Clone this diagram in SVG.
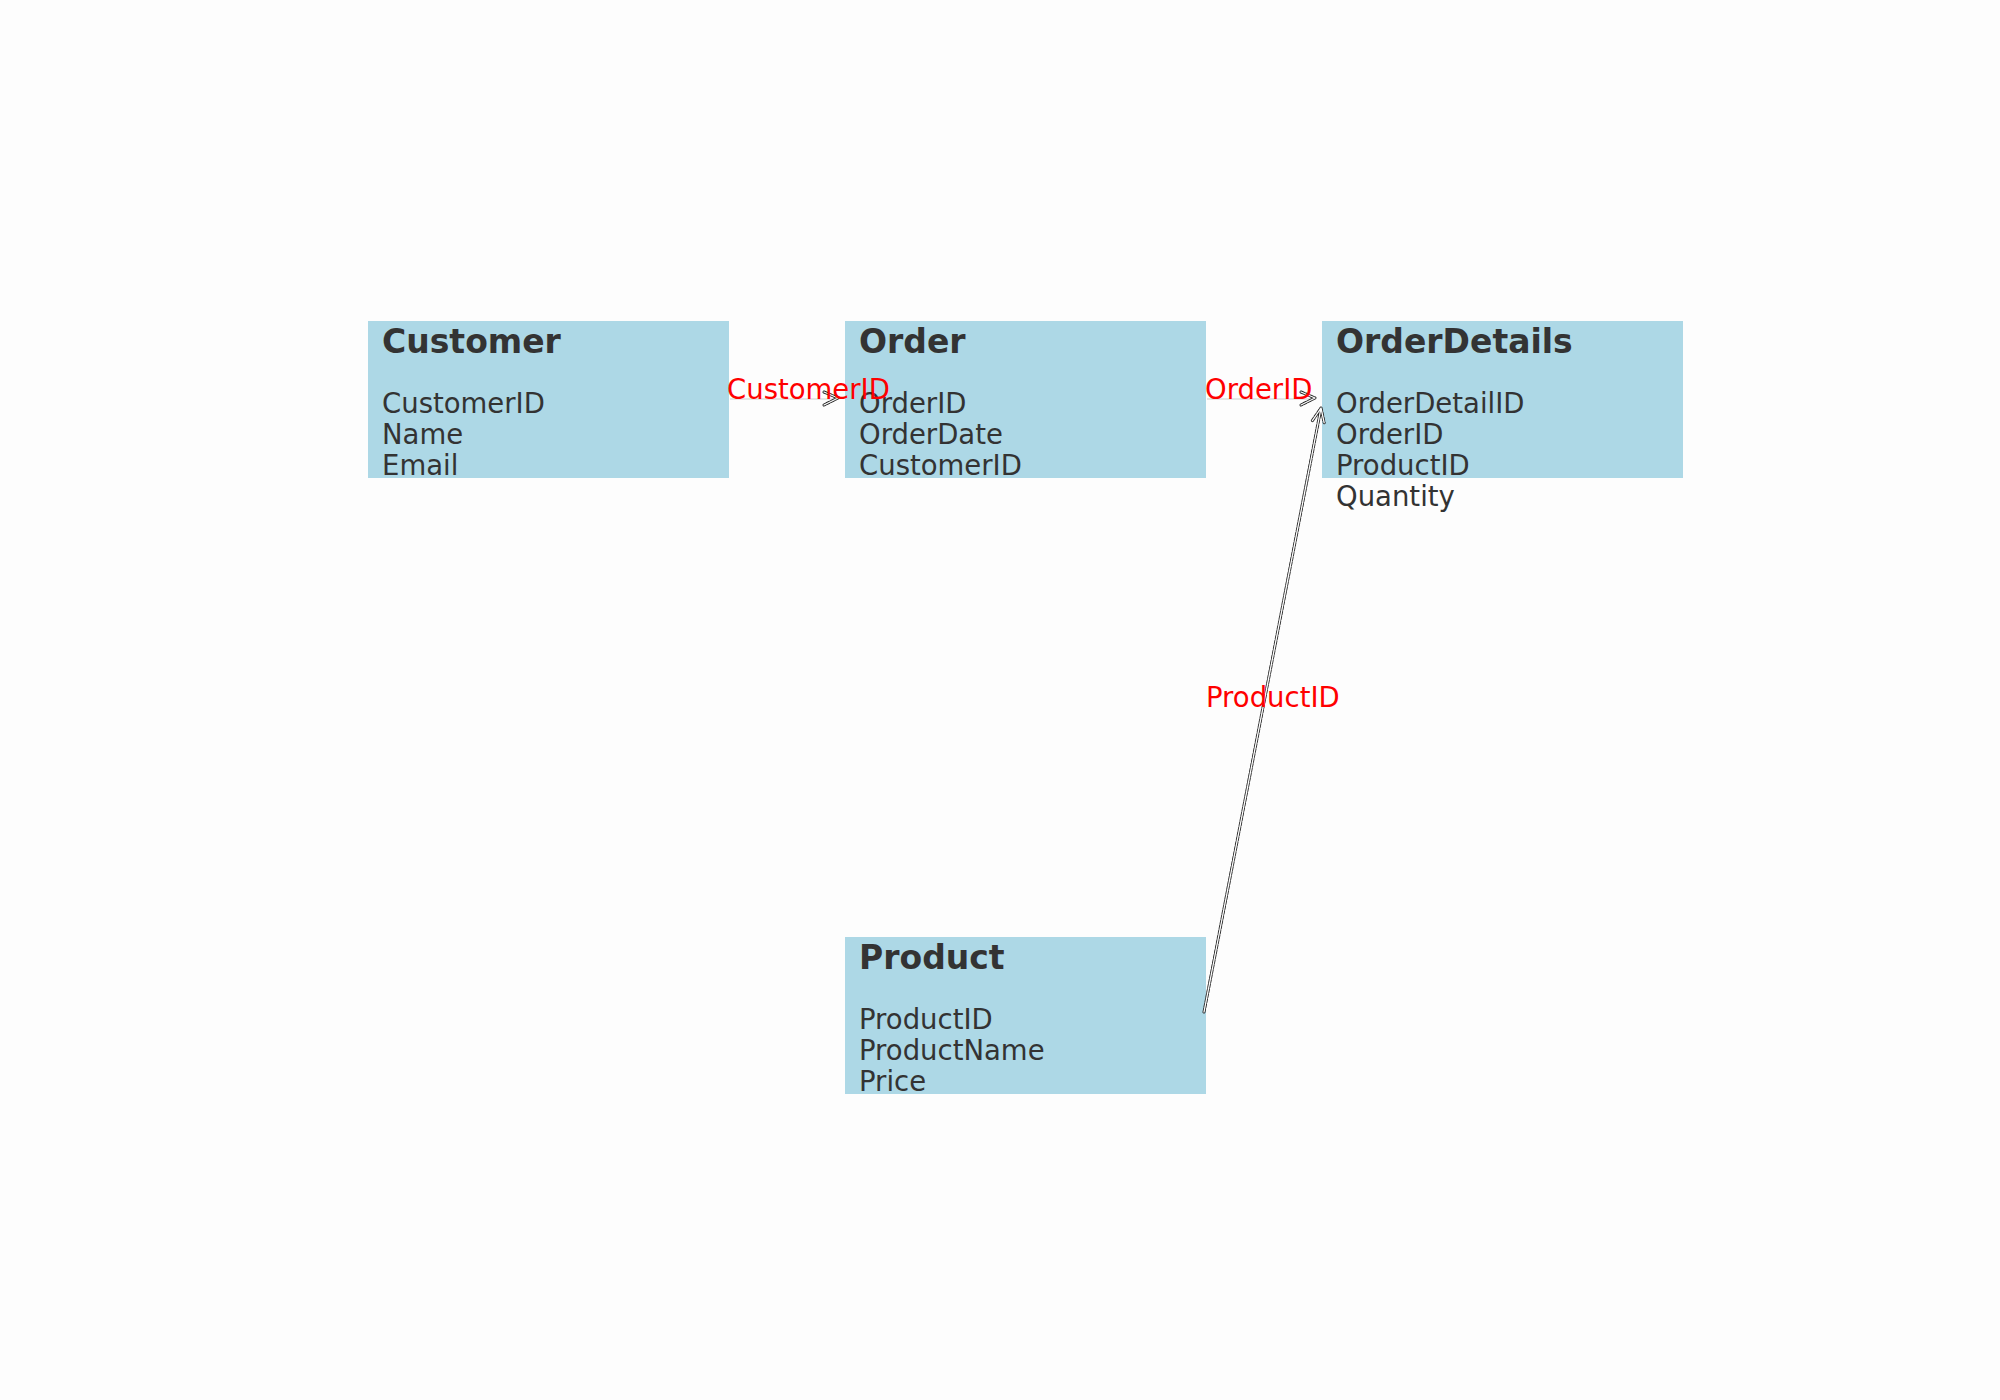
<svg xmlns="http://www.w3.org/2000/svg" width="2000" height="1400" viewBox="0 0 2000 1400">
<style>
.box{fill:#add8e6;}
.title{font-family:"DejaVu Sans",sans-serif;font-weight:bold;font-size:33px;fill:#333333;}
.attr{font-family:"DejaVu Sans",sans-serif;font-size:27.5px;fill:#333333;}
.lbl{font-family:"DejaVu Sans",sans-serif;font-size:27.5px;fill:#ff0000;}
.thin{stroke:#dddddd;stroke-width:1.5;fill:none;}
.eo{stroke:#222222;stroke-width:3;stroke-dasharray:3 2;fill:none;stroke-linecap:round;stroke-linejoin:round;}
.ei{stroke:#ffffff;stroke-width:1.3;fill:none;stroke-linecap:round;stroke-linejoin:round;}
</style>
<rect width="2000" height="1400" fill="#fdfdfd"/>
<g id="customer">
  <rect class="box" x="368" y="321" width="361" height="157"/>
  <text class="title" x="382" y="353">Customer</text>
  <text class="attr" x="382" y="413">CustomerID</text>
  <text class="attr" x="382" y="444">Name</text>
  <text class="attr" x="382" y="475">Email</text>
</g>
<g id="order">
  <rect class="box" x="845" y="321" width="361" height="157"/>
  <text class="title" x="859" y="353">Order</text>
  <text class="attr" x="859" y="413">OrderID</text>
  <text class="attr" x="859" y="444">OrderDate</text>
  <text class="attr" x="859" y="475">CustomerID</text>
</g>
<g id="orderdetails">
  <rect class="box" x="1322" y="321" width="361" height="157"/>
  <text class="title" x="1336" y="353">OrderDetails</text>
  <text class="attr" x="1336" y="413">OrderDetailID</text>
  <text class="attr" x="1336" y="444">OrderID</text>
  <text class="attr" x="1336" y="475">ProductID</text>
  <text class="attr" x="1336" y="506">Quantity</text>
</g>
<g id="product">
  <rect class="box" x="845" y="937" width="361" height="157"/>
  <text class="title" x="859" y="969">Product</text>
  <text class="attr" x="859" y="1029">ProductID</text>
  <text class="attr" x="859" y="1060">ProductName</text>
  <text class="attr" x="859" y="1091">Price</text>
</g>
<g id="connectors">
  <g id="edge-customer-order">
    <line class="thin" x1="730" y1="399" x2="836" y2="399"/>
    <path class="eo" d="M824,392 L838,398 L824,405"/>
    <path class="ei" d="M824,392 L838,398 L824,405"/>
    <text class="lbl" x="727" y="399">CustomerID</text>
  </g>
  <g id="edge-order-orderdetails">
    <line class="thin" x1="1207" y1="399" x2="1313" y2="399"/>
    <path class="eo" d="M1301,392 L1315,398 L1301,405"/>
    <path class="ei" d="M1301,392 L1315,398 L1301,405"/>
    <text class="lbl" x="1205" y="399">OrderID</text>
  </g>
  <g id="edge-product-orderdetails">
    <path class="eo" d="M1204,1012 L1321,408 M1312.4,420.6 L1321,408 L1324.2,422.8"/>
    <path class="ei" d="M1204,1012 L1321,408 M1312.4,420.6 L1321,408 L1324.2,422.8"/>
    <text class="lbl" x="1206" y="707">ProductID</text>
  </g>
</g>
</svg>
